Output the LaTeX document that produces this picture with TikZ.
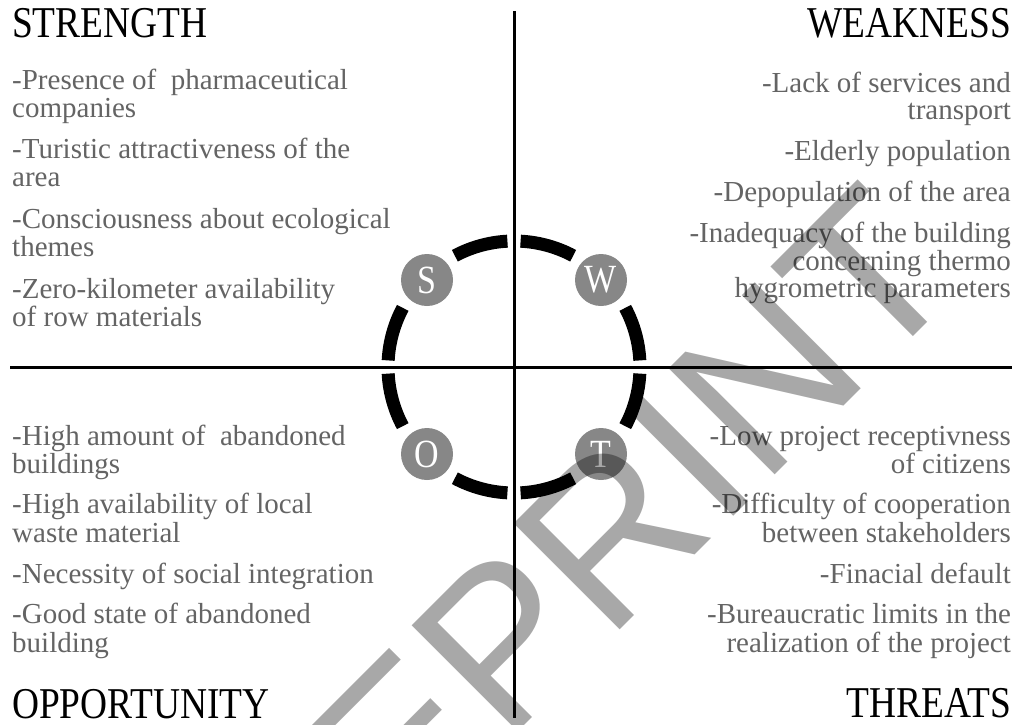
\documentclass[tikz,border=0pt]{standalone}
\usepackage{fontspec}
\setmainfont{Liberation Serif}
\newfontfamily\wmfont{Liberation Sans}
\definecolor{bodygray}{RGB}{100,100,100}
\definecolor{discgray}{RGB}{135,135,135}
\definecolor{wmgray}{RGB}{168,168,168}
\newcommand\headtxt[1]{\scalebox{0.85}[1]{#1}}
\tikzset{
  body/.style={font=\fontsize{29}{29}\selectfont, text=bodygray, inner sep=0pt},
  lt/.style={body, anchor=base west},
  rt/.style={body, anchor=base east},
  headl/.style={font=\fontsize{44}{44}\selectfont, inner sep=0pt, anchor=base west},
  headr/.style={font=\fontsize{44}{44}\selectfont, inner sep=0pt, anchor=base east},
  disc/.style={circle, fill=discgray, minimum size=52pt, inner sep=0pt, text=white, font=\fontsize{40}{40}\selectfont},
  ring/.style={line width=13pt},
  axis/.style={line width=3pt},
  wm/.style={font=\wmfont\fontsize{218}{218}\selectfont, text=wmgray, inner sep=0pt, anchor=base west, rotate=45},
}
\begin{document}
\begin{tikzpicture}[x=1pt,y=-1pt]
\useasboundingbox (0,0) rectangle (1016,724);
\fill[white] (0,0) rectangle (1016,724);
\coordinate (c) at (514,367);
\coordinate (vt) at (514,11);
\coordinate (vb) at (514,718);
\coordinate (hl) at (10,367);
\coordinate (hr) at (1012,367);
\draw[axis] (vt) -- (vb);
\draw[axis] (hl) -- (hr);
\foreach \q in {0,90,180,270}{
  \draw[ring] (c) ++({\q+3}:126pt) arc[start angle=\q+3, end angle=\q+28, radius=126pt];
  \draw[ring] (c) ++({\q+62}:126pt) arc[start angle=\q+62, end angle=\q+87, radius=126pt];
}
\node[disc] (S) at (427,280) {\headtxt{S}};
\node[disc] (W) at (601,280) {\headtxt{W}};
\node[disc] (O) at (427,454) {\headtxt{O}};
\node[disc] (T) at (601,454) {\headtxt{T}};
% headings
\node[headl] (hs) at (12,37) {\headtxt{STRENGTH}};
\node[headr] (hw) at (1011,37) {\headtxt{WEAKNESS}};
\node[headl] (ho) at (12,718) {\headtxt{OPPORTUNITY}};
\node[headr] (ht) at (1011,717) {\headtxt{THREATS}};
% strength
\node[lt] (s1a) at (12,89) {-Presence of\ \ pharmaceutical};
\node[lt] (s1b) at (12,117) {companies};
\node[lt] (s2a) at (12,158) {-Turistic attractiveness of the};
\node[lt] (s2b) at (12,186) {area};
\node[lt] (s3a) at (12,228) {-Consciousness about ecological};
\node[lt] (s3b) at (12,256) {themes};
\node[lt] (s4a) at (12,298) {-Zero-kilometer availability};
\node[lt] (s4b) at (12,326) {of row materials};
% weakness
\node[rt] (w1a) at (1011,92) {-Lack of services and};
\node[rt] (w1b) at (1011,119) {transport};
\node[rt] (w2) at (1011,160) {-Elderly population};
\node[rt] (w3) at (1011,201) {-Depopulation of the area};
\node[rt] (w4a) at (1011,242) {-Inadequacy of the building};
\node[rt] (w4b) at (1011,270) {concerning thermo};
\node[rt] (w4c) at (1011,297) {hygrometric parameters};
% opportunity
\node[lt] (o1a) at (12,445) {-High amount of\ \ abandoned};
\node[lt] (o1b) at (12,473) {buildings};
\node[lt] (o2a) at (12,513) {-High availability of local};
\node[lt] (o2b) at (12,542) {waste material};
\node[lt] (o3) at (12,583) {-Necessity of social integration};
\node[lt] (o4a) at (12,623) {-Good state of abandoned};
\node[lt] (o4b) at (12,652) {building};
% threats
\node[rt] (t1a) at (1011,445) {-Low project receptivness};
\node[rt] (t1b) at (1011,473) {of citizens};
\node[rt] (t2a) at (1011,513) {-Difficulty of cooperation};
\node[rt] (t2b) at (1011,542) {between stakeholders};
\node[rt] (t3) at (1011,583) {-Finacial default};
\node[rt] (t4a) at (1011,623) {-Bureaucratic limits in the};
\node[rt] (t4b) at (1011,652) {realization of the project};
% watermark
\begin{scope}
  \clip (0,0) rectangle (1016,724);
  \begin{scope}[blend mode=multiply]
    \node[wm] (mark) at (188,1062) {PREPRINT};
  \end{scope}
\end{scope}
\end{tikzpicture}
\end{document}
